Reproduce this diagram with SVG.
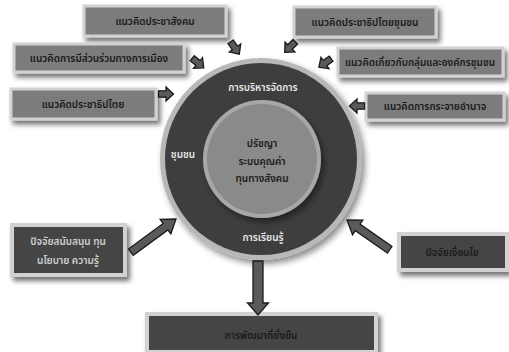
<svg xmlns="http://www.w3.org/2000/svg" width="509" height="352" viewBox="0 0 509 352">
<defs>
<filter id="sh" x="-20%" y="-30%" width="140%" height="170%">
<feDropShadow dx="3" dy="4" stdDeviation="2.5" flood-color="#000" flood-opacity="0.55"/>
</filter>
<filter id="shc" x="-20%" y="-20%" width="140%" height="140%">
<feDropShadow dx="3" dy="4" stdDeviation="3" flood-color="#000" flood-opacity="0.45"/>
</filter>
<style>
.lb{fill:#7b7b7b;stroke:#d2d2d2;stroke-width:3}
.db{fill:#444;stroke:#d2d2d2;stroke-width:4}
.t{font-family:"Noto Sans Thai","Tahoma","DejaVu Sans",sans-serif;font-size:10px;font-weight:600;text-anchor:middle;dominant-baseline:central}
.dk{fill:#1a1a1a}
.lt{fill:#e6e6e6}
.arr{fill:#5a5a5a;stroke:#1a1a1a;stroke-width:1.3;stroke-linejoin:miter}
</style>
<path id="sa" d="M-7.5,-3.2 L0,-3.2 L0,-7 L7.5,0 L0,7 L0,3.2 L-7.5,3.2 Z"/>
</defs>
<rect width="509" height="352" fill="#fff"/>

<g id="circle">
<circle cx="261" cy="159" r="101" fill="#b8b8b8" filter="url(#shc)"/>
<circle cx="261" cy="159" r="96" fill="#3e3e3e"/>
<circle cx="262" cy="159" r="59" fill="#a8a8a8" filter="url(#shc)"/>
<circle cx="262" cy="159" r="55" fill="#8a8a8a"/>
<text class="t lt" x="263" y="88">การบริหารจัดการ</text>
<text class="t lt" x="183" y="155">ชุมชน</text>
<text class="t lt" x="263" y="238">การเรียนรู้</text>
<text class="t dk" x="262" y="144">ปรัชญา</text>
<text class="t dk" x="262" y="162">ระบบคุณค่า</text>
<text class="t dk" x="262" y="179">ทุนทางสังคม</text>
</g>

<g id="box1"><rect class="lb" x="84" y="6" width="142" height="30" filter="url(#sh)"/><text class="t dk" x="155" y="22">แนวคิดประชาสังคม</text></g>
<g id="box2"><rect class="lb" x="14" y="44" width="170" height="28" filter="url(#sh)"/><text class="t dk" x="99" y="59">แนวคิดการมีส่วนร่วมทางการเมือง</text></g>
<g id="box3"><rect class="lb" x="11" y="89" width="145" height="30" filter="url(#sh)"/><text class="t dk" x="83" y="105">แนวคิดประชาธิปไตย</text></g>
<g id="box4"><rect class="lb" x="294" y="7" width="142" height="30" filter="url(#sh)"/><text class="t dk" x="365" y="23">แนวคิดประชาธิปไตยชุมชน</text></g>
<g id="box5"><rect class="lb" x="338" y="48" width="165" height="28" filter="url(#sh)"/><text class="t dk" x="420" y="63">แนวคิดเกี่ยวกับกลุ่มและองค์กรชุมชน</text></g>
<g id="box6"><rect class="lb" x="366" y="93" width="138" height="27" filter="url(#sh)"/><text class="t dk" x="435" y="107">แนวคิดการกระจายอำนาจ</text></g>
<g id="box7"><rect class="db" x="12" y="225" width="113" height="50" filter="url(#sh)"/><text class="t" fill="#cfcfcf" x="68" y="242">ปัจจัยสนับสนุน ทุน</text><text class="t" fill="#cfcfcf" x="68" y="261">นโยบาย ความรู้</text></g>
<g id="box8"><rect class="db" x="399" y="234" width="108" height="36" filter="url(#sh)"/><text class="t dk" x="452" y="253">ปัจจัยเงื่อนไข</text></g>
<g id="box9"><rect class="db" x="147" y="314" width="229" height="38" filter="url(#sh)"/><text class="t dk" x="261" y="336">การพัฒนาที่ยั่งยืน</text></g>

<g id="connectors">
<use href="#sa" class="arr" transform="translate(235,48) rotate(55)"/>
<use href="#sa" class="arr" transform="translate(198,63) rotate(40)"/>
<use href="#sa" class="arr" transform="translate(166,94) rotate(0)"/>
<use href="#sa" class="arr" transform="translate(290,47) rotate(135)"/>
<use href="#sa" class="arr" transform="translate(325,63) rotate(145)"/>
<use href="#sa" class="arr" transform="translate(357,106) rotate(180)"/>
<path class="arr" transform="translate(176,219) rotate(-36.3)" d="M-56,-4 L-13,-4 L-13,-9 L0,0 L-13,9 L-13,4 L-56,4 Z"/>
<path class="arr" transform="translate(347,220) rotate(214.9)" d="M-52,-4 L-13,-4 L-13,-9 L0,0 L-13,9 L-13,4 L-52,4 Z"/>
<path class="arr" transform="translate(258,315) rotate(90)" d="M-54,-5 L-12,-5 L-12,-10.5 L0,0 L-12,10.5 L-12,5 L-54,5 Z"/>
</g>
</svg>
